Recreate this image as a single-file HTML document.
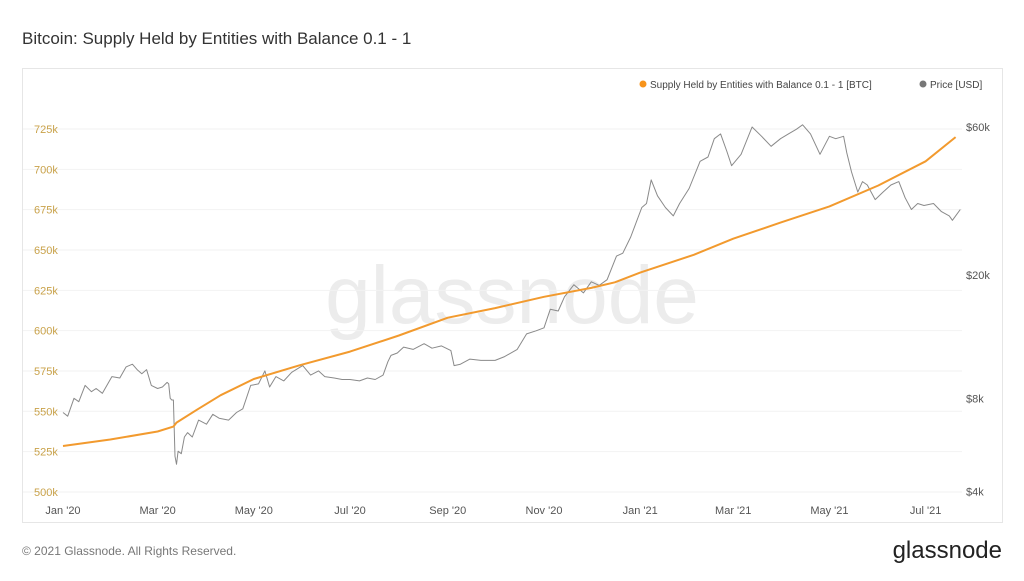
<!DOCTYPE html>
<html><head><meta charset="utf-8"><style>
body{margin:0;background:#fff;font-family:"Liberation Sans",sans-serif;}
</style></head><body>
<svg width="1024" height="576" viewBox="0 0 1024 576" xmlns="http://www.w3.org/2000/svg" font-family="Liberation Sans, sans-serif">
<text x="22" y="44" font-size="17" fill="#333">Bitcoin: Supply Held by Entities with Balance 0.1 - 1</text>
<rect x="22.5" y="68.5" width="980" height="454" fill="#fff" stroke="#e6e6e6"/>
<text x="512" y="323" font-size="82" fill="#ececec" text-anchor="middle">glassnode</text>
<g id="grid"></g><g id="yl"></g><g id="yr"></g><g id="xl"></g>
<g id="series"></g>
<g>
<circle cx="643" cy="84" r="3.5" fill="#f7931a"/>
<text x="650" y="88" font-size="10" fill="#444">Supply Held by Entities with Balance 0.1 - 1 [BTC]</text>
<circle cx="923" cy="84" r="3.5" fill="#777"/>
<text x="930" y="88" font-size="10" fill="#444">Price [USD]</text>
</g>
<text x="22" y="555" font-size="12" fill="#777">© 2021 Glassnode. All Rights Reserved.</text>
<text x="1002" y="558" font-size="24" fill="#222" text-anchor="end">glassnode</text>
</svg>
<script>
const leftTicks=[500,525,550,575,600,625,650,675,700,725];
const rightTicks=[4000,8000,20000,60000];
const rightLabels=["$4k","$8k","$20k","$60k"];
const xTickDays=[0,60,121,182,244,305,366,425,486,547];
const xTickLabels=["Jan '20","Mar '20","May '20","Jul '20","Sep '20","Nov '20","Jan '21","Mar '21","May '21","Jul '21"];
const supplyDays=[0,30,60,70,72,85,100,121,150,182,213,244,274,305,335,350,366,400,425,455,486,517,547,566];
const supplyVals=[528.5,532.5,537.5,540.5,543,551,560,570,578.5,587,597,608,614,621,626.5,630,636,647,657,667,677,690,705,720];
const priceDays=[0,3,7,10,14,18,21,25,31,36,40,44,47,50,53,56,60,63,66,67,68,69,70,71,72,73,75,77,79,82,86,91,95,99,105,110,114,119,124,128,131,135,140,145,152,157,162,166,172,177,182,188,193,198,203,206,208,212,216,222,229,234,240,246,248,252,258,265,274,280,288,294,300,305,309,314,318,324,330,335,340,345,351,355,360,367,370,373,377,382,387,391,397,404,409,413,417,421,424,430,437,443,449,455,460,465,469,474,480,486,490,495,497,500,504,507,510,515,520,525,530,534,538,542,546,552,557,562,564,566,569];
const priceVals=[7200,7000,8000,7800,8800,8400,8600,8300,9400,9300,10100,10300,9900,9600,9900,8800,8600,8700,9000,8900,8000,7900,7900,5200,4900,5400,5300,6000,6200,6000,6800,6600,7100,6900,6800,7200,7400,8800,8900,9800,8700,9400,9100,9700,10200,9500,9800,9400,9300,9200,9200,9100,9300,9200,9500,10500,11000,11200,11700,11500,12000,11600,11800,11400,10200,10300,10700,10600,10600,10900,11500,12900,13200,13500,15500,15300,17000,18600,17500,19000,18500,19300,23000,23500,26500,33000,34000,40500,36000,33000,31000,34000,38000,46500,48000,55000,57000,50000,45000,49000,60000,56000,52000,55000,57000,59000,61000,57000,49000,56000,55000,56000,49500,43000,37000,40000,39000,35000,37000,39000,40000,35500,32500,34000,33500,34000,32000,31000,30000,31000,32500];
const NS="http://www.w3.org/2000/svg";
const xOf=d=>63+d*1.577;
const yL=v=>129+(725-v)/25*40.33;
const yR=p=>127+310*Math.log10(60000/p);
function mk(tag,attrs,parent){const e=document.createElementNS(NS,tag);for(const k in attrs)e.setAttribute(k,attrs[k]);document.getElementById(parent).appendChild(e);return e;}
leftTicks.forEach(v=>{
 const g=mk('line',{x1:23,x2:962,y1:yL(v),y2:yL(v),stroke:'#f2f2f2'},'grid');
 
 
 const t=mk('text',{x:34,y:yL(v)+4,'font-size':11,fill:'#c9a24a'},'yl');t.textContent=v+'k';
 
 
});
rightTicks.forEach((p,i)=>{
 const t=mk('text',{x:966,y:yR(p)+4,'font-size':11,fill:'#555'},'yr');t.textContent=rightLabels[i];
 
 
});
xTickDays.forEach((d,i)=>{
 const t=mk('text',{x:xOf(d),y:514,'font-size':11,fill:'#555','text-anchor':'middle'},'xl');t.textContent=xTickLabels[i];
 
 
});
const pp=priceDays.map((d,i)=>xOf(d).toFixed(1)+','+yR(priceVals[i]).toFixed(1)).join(' ');
const pl=mk('polyline',{points:pp,fill:'none',stroke:'#8a8a8a','stroke-width':1,'stroke-linejoin':'round'},'series');


const sp=supplyDays.map((d,i)=>xOf(d).toFixed(1)+','+yL(supplyVals[i]).toFixed(1)).join(' ');
const sl=mk('polyline',{points:sp,fill:'none',stroke:'#f29a2e','stroke-width':2,'stroke-linejoin':'round'},'series');


</script>
</body></html>
